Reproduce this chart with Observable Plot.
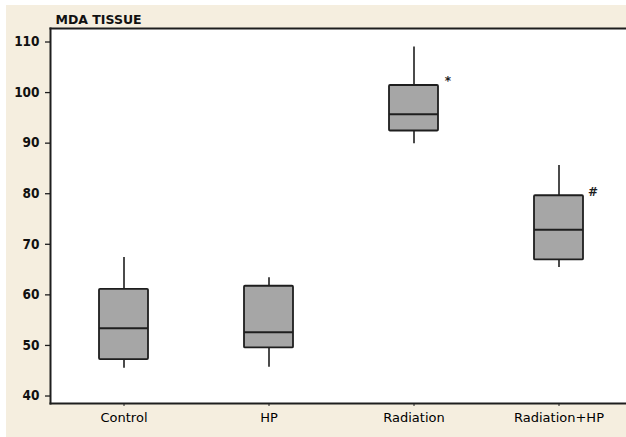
<!DOCTYPE html>
<html>
<head>
<meta charset="utf-8">
<script src="https://cdn.jsdelivr.net/npm/d3@7"></script>
<script src="https://cdn.jsdelivr.net/npm/@observablehq/plot@0.6"></script>
<style>
  html, body { margin: 0; padding: 0; background: #f5eedf; overflow: hidden; }
  #chart svg { display: block; }
</style>
</head>
<body>
<div id="chart"></div>
<script>
const categories = ["Control", "HP", "Radiation", "Radiation+HP"];
const whiskerLow = [45.5, 45.7, 89.9, 65.4];
const q1 = [47.2, 49.5, 92.4, 66.9];
const median = [53.4, 52.6, 95.7, 72.9];
const q3 = [61.1, 61.7, 101.4, 79.6];
const whiskerHigh = [67.4, 63.4, 109.0, 85.6];
const markers = ["", "", "*", "#"];
const yTicks = [40, 50, 60, 70, 80, 90, 100, 110];
const title = "MDA TISSUE";

const data = categories.map((c, i) => ({
  cat: c, lo: whiskerLow[i], q1: q1[i], med: median[i], q3: q3[i], hi: whiskerHigh[i], mark: markers[i]
}));

const ink = "#1e1e1e";
const chart = Plot.plot({
  width: 626,
  height: 437,
  marginLeft: 50,
  marginRight: 0,
  marginTop: 28,
  marginBottom: 34,
  style: {
    background: "#f5eedf",
    boxShadow: "inset 6px 5px 0 0 #ffffff",
    color: ink,
    fontFamily: "'DejaVu Sans', sans-serif",
    overflow: "hidden"
  },
  x: { domain: categories, range: [50, 631], padding: 0, label: null },
  y: { domain: [38.52, 112.67], label: null },
  marks: [
    Plot.frame({ fill: "#ffffff", stroke: "none" }),
    Plot.frame({ anchor: "left", stroke: ink, strokeWidth: 2 }),
    Plot.frame({ anchor: "top", stroke: ink, strokeWidth: 2 }),
    Plot.frame({ anchor: "bottom", stroke: ink, strokeWidth: 2 }),
    Plot.axisY({ ticks: yTicks, tickSize: 5, tickPadding: 6, fontSize: 13.5, fontWeight: "bold", fontFamily: "'DejaVu Sans Condensed', 'DejaVu Sans', sans-serif", stroke: ink, strokeWidth: 1.3, fill: "#111", label: null }),
    Plot.axisX({ tickSize: 3, tickPadding: 6, fontSize: 13, fontFamily: "'DejaVu Sans', sans-serif", stroke: ink, fill: "#000", label: null }),
    Plot.ruleX(data, { x: "cat", y1: "lo", y2: "q1", stroke: ink, strokeWidth: 1.6 }),
    Plot.ruleX(data, { x: "cat", y1: "q3", y2: "hi", stroke: ink, strokeWidth: 1.6 }),
    Plot.barY(data, { x: "cat", y1: "q1", y2: "q3", fill: "#a6a6a6", stroke: ink, strokeWidth: 1.8, insetLeft: 48, insetRight: 48, rx: 1 }),
    Plot.tickY(data, { x: "cat", y: "med", stroke: ink, strokeWidth: 2, insetLeft: 48, insetRight: 48 }),
    Plot.text(data.filter(d => d.mark), { x: "cat", y: "q3", text: "mark", dx: 34, dy: -4, fontSize: 12, fontWeight: "bold", fill: ink }),
    Plot.text([title], { frameAnchor: "top-left", textAnchor: "start", lineAnchor: "middle", dx: 5, dy: -9, fontSize: 12.5, fontWeight: "bold", fill: "#111" })
  ]
});
document.getElementById("chart").appendChild(chart);
</script>
</body>
</html>
